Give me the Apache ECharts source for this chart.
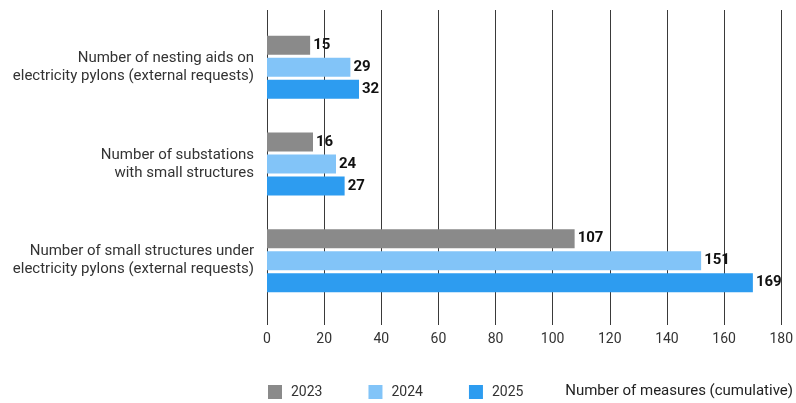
<!DOCTYPE html>
<html>
<head>
<meta charset="utf-8">
<script src="https://cdn.jsdelivr.net/npm/echarts@6/dist/echarts.min.js"></script>
<style>
  html, body { margin: 0; padding: 0; background: #fff; }
  #chart { width: 796px; height: 403px; }
</style>
</head>
<body>
<div id="chart"></div>
<script>
// Measure categories, top to bottom
const categories = [
  'Number of nesting aids on\nelectricity pylons (external requests)',
  'Number of substations\nwith small structures',
  'Number of small structures under\nelectricity pylons (external requests)'
];
const years = ['2023', '2024', '2025'];
const values2023 = [15, 16, 107];
const values2024 = [29, 24, 151];
const values2025 = [32, 27, 169];
const xTicks = { min: 0, max: 180, step: 20 };
const axisTitle = 'Number of measures (cumulative)';

const colors = ['#8a8a8a', '#82c4f8', '#2d9cf0'];
const seriesValues = [values2023, values2024, values2025];
const FONT = 'Roboto';

const chart = echarts.init(document.getElementById('chart'));

const option = {
  animation: false,
  color: colors,
  textStyle: { fontFamily: FONT },
  title: {
    text: axisTitle,
    right: 3,
    top: 384,
    padding: 0,
    textStyle: { fontFamily: FONT, fontSize: 15, fontWeight: 'normal', color: '#222' }
  },
  legend: {
    left: 268,
    top: 385,
    padding: 0,
    itemWidth: 14,
    itemHeight: 14,
    itemGap: 46,
    icon: 'rect',
    textStyle: { fontFamily: FONT, fontSize: 14, color: '#333', padding: [0, 0, 0, 4] },
    data: years
  },
  grid: [
    // grid carrying the vertical gridlines and tick labels
    { left: 267, right: 11.5, top: 10, height: 315 },
    // grid carrying the bars
    { left: 267, right: 11.5, top: 19, height: 290 }
  ],
  xAxis: [
    {
      gridIndex: 0,
      type: 'value',
      min: xTicks.min,
      max: xTicks.max,
      interval: xTicks.step,
      axisLine: { show: false },
      axisTick: { show: false },
      splitLine: { show: true, lineStyle: { color: '#3a3a3a', width: 1 } },
      axisLabel: { margin: 7, fontFamily: FONT, fontSize: 14, color: '#333' }
    },
    {
      gridIndex: 1,
      type: 'value',
      min: xTicks.min,
      max: xTicks.max,
      interval: xTicks.step,
      show: false,
      splitLine: { show: false }
    }
  ],
  yAxis: [
    {
      gridIndex: 0,
      type: 'value',
      show: false,
      splitLine: { show: false }
    },
    {
      gridIndex: 1,
      type: 'category',
      inverse: true,
      data: categories,
      axisLine: { show: false },
      axisTick: { show: false },
      splitLine: { show: false },
      axisLabel: {
        margin: 13,
        fontFamily: FONT,
        fontSize: 15,
        lineHeight: 18,
        color: '#333',
        align: 'right'
      }
    }
  ],
  series: years.map((y, i) => ({
    name: y,
    type: 'bar',
    xAxisIndex: 1,
    yAxisIndex: 1,
    data: seriesValues[i],
    barWidth: 19,
    barGap: '16%',
    itemStyle: { color: colors[i] },
    label: {
      show: true,
      position: 'right',
      distance: 3,
      fontFamily: FONT,
      fontSize: 15,
      fontWeight: 'bold',
      color: '#111'
    }
  }))
};

chart.setOption(option);
</script>
</body>
</html>
